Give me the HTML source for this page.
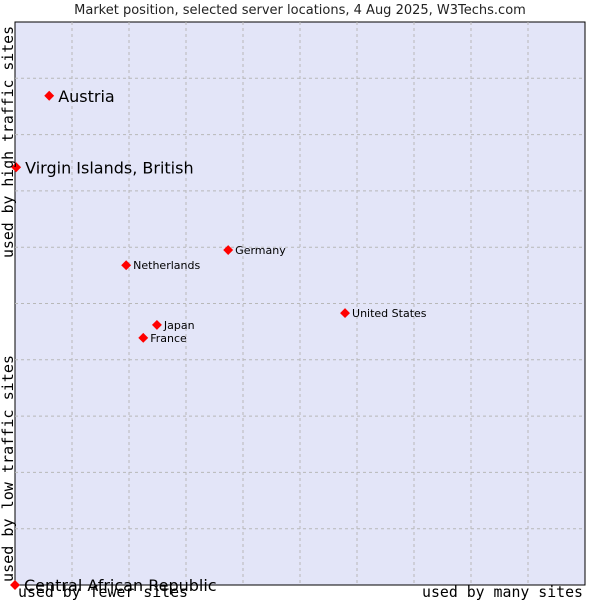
<!DOCTYPE html>
<html><head><meta charset="utf-8"><style>body{margin:0;background:#fff}svg{display:block}</style></head>
<body>
<svg id="chart" width="600" height="600" xmlns="http://www.w3.org/2000/svg" font-family="DejaVu Sans, sans-serif">
<text x="300" y="14" text-anchor="middle" font-size="13" fill="#222">Market position, selected server locations, 4 Aug 2025, W3Techs.com</text>
<rect x="15" y="22" width="570" height="563" fill="#e3e5f8" stroke="#000" stroke-width="1"/>
<g id="grid"></g>
<g id="points"></g>
<text x="18" y="597" font-family="DejaVu Sans Mono, monospace" font-size="15" textLength="170" lengthAdjust="spacingAndGlyphs">used by fewer sites</text>
<text x="422" y="597" font-family="DejaVu Sans Mono, monospace" font-size="15" textLength="161" lengthAdjust="spacingAndGlyphs">used by many sites</text>
<text transform="translate(13,582) rotate(-90)" font-family="DejaVu Sans Mono, monospace" font-size="15" textLength="227" lengthAdjust="spacingAndGlyphs">used by low traffic sites</text>
<text transform="translate(13,258) rotate(-90)" font-family="DejaVu Sans Mono, monospace" font-size="15" textLength="232" lengthAdjust="spacingAndGlyphs">used by high traffic sites</text>
</svg>
<script>
const names = ["Austria","Virgin Islands, British","Germany","Netherlands","United States","Japan","France","Central African Republic"];
const xVals = [0.6,0.02,3.74,1.95,5.79,2.49,2.25,0];
const yVals = [8.69,7.42,5.95,5.68,4.83,4.62,4.39,0];
const bigLabel = [true,true,false,false,false,false,false,true];
const L=15,T=22,W=570,H=563;
const sx=v=>L+v/10*W, sy=v=>T+H-v/10*H;
const NS="http://www.w3.org/2000/svg";
const g=document.getElementById('grid');
for(let i=1;i<10;i++){
  const v=document.createElementNS(NS,'line');
  
  
  v.setAttribute('x1',sx(i));v.setAttribute('x2',sx(i));v.setAttribute('y1',T);v.setAttribute('y2',T+H);
  v.setAttribute('stroke','#b8b8b8');v.setAttribute('stroke-dasharray','3,3');g.appendChild(v);
  const h=document.createElementNS(NS,'line');
  
  
  h.setAttribute('y1',sy(i));h.setAttribute('y2',sy(i));h.setAttribute('x1',L);h.setAttribute('x2',L+W);
  h.setAttribute('stroke','#b8b8b8');h.setAttribute('stroke-dasharray','3,3');g.appendChild(h);
}
const p=document.getElementById('points');
names.forEach((n,i)=>{
  const x=sx(xVals[i]),y=sy(yVals[i]);
  const c=document.createElementNS(NS,'rect');
  
  
  c.setAttribute('x',x-3.5);c.setAttribute('y',y-3.5);c.setAttribute('width',7);c.setAttribute('height',7);
  c.setAttribute('fill','#f00');c.setAttribute('transform',`rotate(45 ${x} ${y})`);
  p.appendChild(c);
  const t=document.createElementNS(NS,'text');
  
  
  t.setAttribute('x',x+(bigLabel[i]?9:7));t.setAttribute('y',y+(bigLabel[i]?6:4));
  t.setAttribute('font-size',bigLabel[i]?16:11);t.setAttribute('fill','#000');
  t.textContent=n;p.appendChild(t);
});
</script>
</body></html>
